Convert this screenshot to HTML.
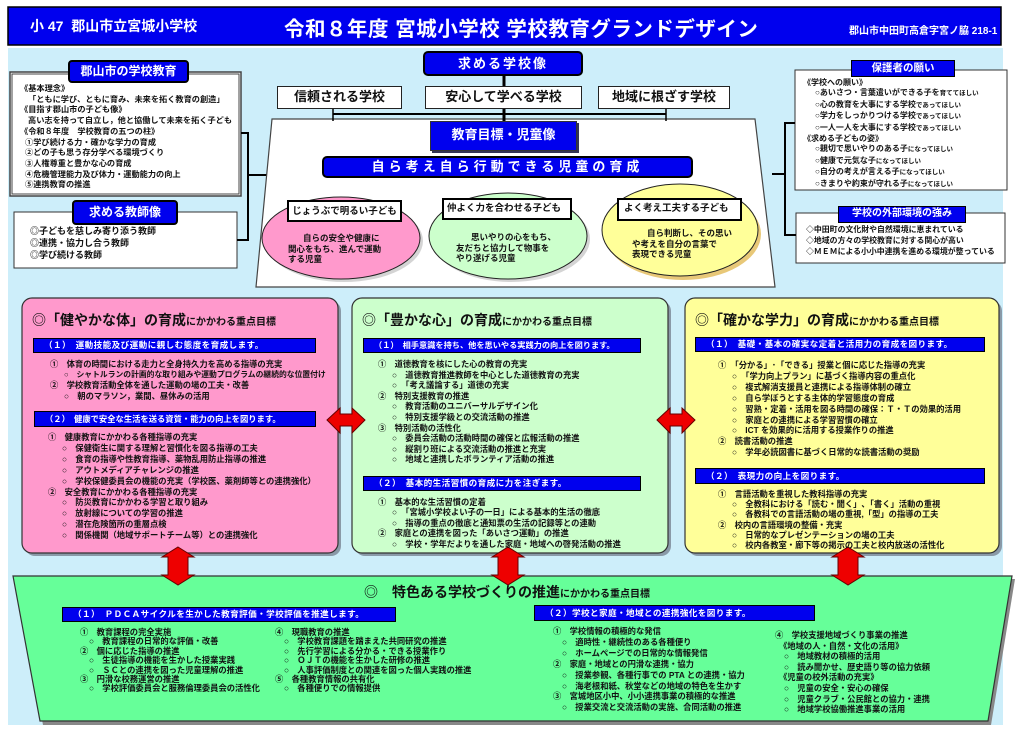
<!DOCTYPE html>
<html><head><meta charset="utf-8">
<style>
*{margin:0;padding:0;box-sizing:border-box}
body{width:1024px;height:735px;background:#fff;position:relative;overflow:hidden;font-family:"Liberation Sans","Noto Sans CJK JP",sans-serif;font-weight:bold;color:#111}
.a{position:absolute;white-space:nowrap}
.lbl{position:absolute;background:#0000ee;color:#fff;text-align:center;border:2px solid #000;}
.box{position:absolute;background:#fff;border:1.5px solid #222;text-align:center}
.bar{position:absolute;background:#0000ee;color:#fff;border:1px solid #000;font-size:8.6px;padding-left:10px;white-space:nowrap;letter-spacing:0.4px;overflow:hidden}
.l{font-size:8.3px;white-space:nowrap}
.i1{padding-left:0}
.i2{padding-left:14px}
</style></head><body>
<svg class="a" style="left:0;top:0" width="1024" height="735">
<rect x="8" y="48" width="995" height="677" fill="#cdeefa"/>
<rect x="8" y="7" width="993" height="38" fill="#0000ee" stroke="#000" stroke-width="1.5"/>
<rect x="10" y="72" width="231" height="124" fill="#fff" stroke="#444" stroke-width="1.5"/>
<rect x="12" y="74" width="227" height="120" fill="none" stroke="#444" stroke-width="1"/>
<rect x="14" y="212" width="223" height="56" fill="#fff" stroke="#333" stroke-width="1"/>
<polyline points="241,133 248,133 248,240 237,240" fill="none" stroke="#000" stroke-width="2"/>
<line x1="248" y1="175" x2="268" y2="175" stroke="#000" stroke-width="2"/>
<polygon points="272,119 755,119 775,287 256,287" fill="#fff" stroke="#444" stroke-width="1.2"/>
<line x1="504" y1="76" x2="504" y2="121" stroke="#000" stroke-width="3"/>
<line x1="333" y1="114" x2="666" y2="114" stroke="#000" stroke-width="2"/>
<line x1="333" y1="109" x2="333" y2="121" stroke="#000" stroke-width="1.5"/>
<line x1="666" y1="109" x2="666" y2="121" stroke="#000" stroke-width="1.5"/>
<ellipse cx="344" cy="241" rx="79" ry="41" fill="#aaa" opacity=".5"/>
<ellipse cx="341" cy="238" rx="79" ry="41" fill="#ff99cc" stroke="#222" stroke-width="1"/>
<ellipse cx="511" cy="239" rx="79" ry="43" fill="#aaa" opacity=".5"/>
<ellipse cx="508" cy="236" rx="79" ry="43" fill="#ccffcc" stroke="#222" stroke-width="1"/>
<ellipse cx="683" cy="234" rx="78" ry="46" fill="#e8c878"/>
<ellipse cx="680" cy="230" rx="78" ry="46" fill="#ffff99" stroke="#222" stroke-width="1"/>
<rect x="795" y="70" width="212" height="120" fill="#fff" stroke="#333" stroke-width="1"/>
<rect x="796" y="213" width="209" height="50" fill="#fff" stroke="#333" stroke-width="1"/>
<polyline points="795,123 785,123 785,235 796,235" fill="none" stroke="#000" stroke-width="2"/>
<line x1="785" y1="174" x2="772" y2="174" stroke="#000" stroke-width="2"/>
<rect x="25" y="301" width="316" height="255" rx="10" fill="#8a9aa8"/>
<rect x="22" y="298" width="316" height="255" rx="10" fill="#ff99cc" stroke="#333" stroke-width="1.2"/>
<rect x="355" y="301" width="316" height="255" rx="10" fill="#8a9aa8"/>
<rect x="352" y="298" width="316" height="255" rx="10" fill="#ccffcc" stroke="#333" stroke-width="1.2"/>
<rect x="688" y="301" width="314" height="255" rx="10" fill="#8a9aa8"/>
<rect x="685" y="298" width="314" height="255" rx="10" fill="#ffff99" stroke="#333" stroke-width="1.2"/>
<polygon points="16,579 1015,579 991,725 43,725" fill="#888"/>
<polygon points="13,576 1012,576 988,721 40,721" fill="#66ff99" stroke="#333" stroke-width="1.2"/>
<polygon points="327,420 340,408 340,414 352,414 352,408 365,420 352,433 352,426 340,426 340,433" fill="#ee0000" stroke="#600" stroke-width="1"/>
<polygon points="657,420 670,408 670,414 682,414 682,408 695,420 682,433 682,426 670,426 670,433" fill="#ee0000" stroke="#600" stroke-width="1"/>
<polygon points="178,547 194,557 188,557 188,575 194,575 178,585 162,575 168,575 168,557 162,557" fill="#ee0000" stroke="#600" stroke-width="1"/>
<polygon points="508,547 524,557 518,557 518,575 524,575 508,585 492,575 498,575 498,557 492,557" fill="#ee0000" stroke="#600" stroke-width="1"/>
<polygon points="848,547 864,557 858,557 858,575 864,575 848,585 832,575 838,575 838,557 832,557" fill="#ee0000" stroke="#600" stroke-width="1"/>
</svg>

<div class="a" style="left:30px;top:16px;color:#fff;font-size:14px">小 47&nbsp; 郡山市立宮城小学校</div>
<div class="a" style="left:284px;top:12px;color:#fff;font-size:20.5px;letter-spacing:0.5px">令和８年度&nbsp;宮城小学校&nbsp;学校教育グランドデザイン</div>
<div class="a" style="left:849px;top:22px;color:#fff;font-size:10px">郡山市中田町高倉字宮ノ脇 218-1</div>

<div class="lbl" style="left:68px;top:60px;width:121px;height:23px;font-size:12px;line-height:19px;border-radius:4px">郡山市の学校教育</div>
<div class="a l" style="left:20px;top:84px;line-height:10.7px;font-size:8.2px">
<div>《基本理念》</div>
<div style="padding-left:8px">「ともに学び、ともに育み、未来を拓く教育の創造」</div>
<div>《目指す郡山市の子ども像》</div>
<div style="padding-left:8px">高い志を持って自立し，他と協働して未来を拓く子ども</div>
<div>《令和８年度　学校教育の五つの柱》</div>
<div style="padding-left:5px">①学び続ける力・確かな学力の育成</div>
<div style="padding-left:5px">②どの子も思う存分学べる環境づくり</div>
<div style="padding-left:5px">③人権尊重と豊かな心の育成</div>
<div style="padding-left:5px">④危機管理能力及び体力・運動能力の向上</div>
<div style="padding-left:5px">⑤連携教育の推進</div>
</div>
<div class="lbl" style="left:72px;top:200px;width:106px;height:25px;font-size:12px;line-height:21px;border-radius:4px">求める教師像</div>
<div class="a" style="left:30px;top:225px;line-height:12px;font-size:9px">
<div>◎子どもを慈しみ寄り添う教師</div>
<div>◎連携・協力し合う教師</div>
<div>◎学び続ける教師</div>
</div>

<div class="lbl" style="left:423px;top:51px;width:160px;height:25px;font-size:13px;line-height:21px;border-radius:5px;letter-spacing:2px">求める学校像</div>
<div class="box" style="left:277px;top:86px;width:125px;height:23px;font-size:13px;line-height:20px">信頼される学校</div>
<div class="box" style="left:425px;top:86px;width:157px;height:23px;font-size:13px;line-height:20px">安心して学べる学校</div>
<div class="box" style="left:598px;top:86px;width:132px;height:23px;font-size:13px;line-height:20px">地域に根ざす学校</div>
<div class="lbl" style="left:430px;top:121px;width:147px;height:30px;font-size:13px;line-height:26px;border:1px solid #333;box-shadow:2px 2px 0 #335">教育目標・児童像</div>
<div class="lbl" style="left:322px;top:156px;width:371px;height:22px;font-size:13px;line-height:18px;border-radius:5px;letter-spacing:4px">自ら考え自ら行動できる児童の育成</div>
<div class="box" style="left:287px;top:200px;width:115px;height:22px;font-size:9.5px;line-height:19px;border:2.5px solid #000">じょうぶで明るい子ども</div>
<div class="box" style="left:442px;top:198px;width:130px;height:22px;font-size:9.5px;line-height:17px;border:2.5px solid #000;text-align:left;padding-left:3px">仲よく力を合わせる子ども</div>
<div class="box" style="left:617px;top:198px;width:125px;height:23px;font-size:9.5px;line-height:17px;border:2.5px solid #000;text-align:left;padding-left:5px">よく考え工夫する子ども</div>
<div class="a" style="left:288px;top:233px;font-size:8.5px;line-height:10.5px"><div style="padding-left:15px">自らの安全や健康に</div><div>関心をもち、進んで運動</div><div>する児童</div></div>
<div class="a" style="left:456px;top:232px;font-size:8.5px;line-height:10.5px"><div style="padding-left:15px">思いやりの心をもち、</div><div>友だちと協力して物事を</div><div>やり遂げる児童</div></div>
<div class="a" style="left:632px;top:228px;font-size:8.5px;line-height:10.5px"><div style="padding-left:15px">自ら判断し、その思い</div><div>や考えを自分の言葉で</div><div>表現できる児童</div></div>

<div class="lbl" style="left:851px;top:60px;width:104px;height:17px;font-size:10.5px;line-height:14px;border-width:1px">保護者の願い</div>
<div class="a" style="left:803px;top:78px;font-size:8px;line-height:10.4px">
<div>《学校への願い》</div>
<div style="padding-left:12px">○あいさつ・言葉遣いができる子を<span style="font-size:6.5px">育ててほしい</span></div>
<div style="padding-left:12px">○心の教育を大事にする学校<span style="font-size:6.5px">であってほしい</span></div>
<div style="padding-left:12px">○学力をしっかりつける学校<span style="font-size:6.5px">であってほしい</span></div>
<div style="padding-left:12px">○一人一人を大事にする学校<span style="font-size:6.5px">であってほしい</span></div>
<div>《求める子どもの姿》</div>
<div style="padding-left:12px">○親切で思いやりのある子<span style="font-size:6.5px">になってほしい</span></div>
<div style="padding-left:12px">○健康で元気な子<span style="font-size:6.5px">になってほしい</span></div>
<div style="padding-left:12px">○自分の考えが言える子<span style="font-size:6.5px">になってほしい</span></div>
<div style="padding-left:12px">○きまりや約束が守れる子<span style="font-size:6.5px">になってほしい</span></div>
</div>
<div class="lbl" style="left:838px;top:206px;width:128px;height:17px;font-size:10px;line-height:14px;border-width:1px">学校の外部環境の強み</div>
<div class="a" style="left:806px;top:224px;font-size:7.9px;line-height:11px">
<div>◇中田町の文化財や自然環境に恵まれている</div>
<div>◇地域の方々の学校教育に対する関心が高い</div>
<div>◇ＭＥＭによる小小中連携を進める環境が整っている</div>
</div>

<div class="a" style="left:32px;top:310px;font-size:14px">◎「健やかな体」の育成<span style="font-size:10px">にかかわる重点目標</span></div>
<div class="bar" style="left:33px;top:338px;width:283px;height:15px;line-height:13px">（１）　運動技能及び運動に親しむ態度を育成します。</div>
<div class="a" style="left:50px;top:359px;line-height:10.7px">
<div class="l">①　体育の時間における走力と全身持久力を高める指導の充実</div>
<div class="l i2" style="font-size:7.8px">○　シャトルランの計画的な取り組みや運動プログラムの継続的な位置付け</div>
<div class="l">②　学校教育活動全体を通した運動の場の工夫・改善</div>
<div class="l i2">○　朝のマラソン，業間、昼休みの活用</div>
</div>
<div class="bar" style="left:34px;top:411px;width:282px;height:16px;line-height:14px;font-size:8.3px;letter-spacing:0">（２）　健康で安全な生活を送る資質・能力の向上を図ります。</div>
<div class="a" style="left:48px;top:432px;line-height:10.9px">
<div class="l">①　健康教育にかかわる各種指導の充実</div>
<div class="l i2">○　保健衛生に関する理解と習慣化を図る指導の工夫</div>
<div class="l i2">○　食育の指導や性教育指導、薬物乱用防止指導の推進</div>
<div class="l i2">○　アウトメディアチャレンジの推進</div>
<div class="l i2">○　学校保健委員会の機能の充実（学校医、薬剤師等との連携強化）</div>
<div class="l">②　安全教育にかかわる各種指導の充実</div>
<div class="l i2">○　防災教育にかかわる学習と取り組み</div>
<div class="l i2">○　放射線についての学習の推進</div>
<div class="l i2">○　潜在危険箇所の重層点検</div>
<div class="l i2">○　関係機関（地域サポートチーム等）との連携強化</div>
</div>

<div class="a" style="left:362px;top:310px;font-size:14px">◎「豊かな心」の育成<span style="font-size:10px">にかかわる重点目標</span></div>
<div class="bar" style="left:363px;top:338px;width:278px;height:15px;line-height:13px;font-size:8.2px;letter-spacing:0">（１）　相手意識を持ち、他を思いやる実践力の向上を図ります。</div>
<div class="a" style="left:378px;top:359px;line-height:10.6px">
<div class="l">①　道徳教育を核にした心の教育の充実</div>
<div class="l i2">○　道徳教育推進教師を中心とした道徳教育の充実</div>
<div class="l i2">○　「考え議論する」道徳の充実</div>
<div class="l">②　特別支援教育の推進</div>
<div class="l i2">○　教育活動のユニバーサルデザイン化</div>
<div class="l i2">○　特別支援学級との交流活動の推進</div>
<div class="l">③　特別活動の活性化</div>
<div class="l i2">○　委員会活動の活動時間の確保と広報活動の推進</div>
<div class="l i2">○　縦割り班による交流活動の推進と充実</div>
<div class="l i2">○　地域と連携したボランティア活動の推進</div>
</div>
<div class="bar" style="left:363px;top:476px;width:278px;height:15px;line-height:13px">（２）　基本的生活習慣の育成に力を注ぎます。</div>
<div class="a" style="left:378px;top:497px;line-height:10.4px">
<div class="l">①　基本的な生活習慣の定着</div>
<div class="l i2">○　「宮城小学校よい子の一日」による基本的生活の徹底</div>
<div class="l i2">○　指導の重点の徹底と通知票の生活の記録等との連動</div>
<div class="l">②　家庭との連携を図った「あいさつ運動」の推進</div>
<div class="l i2">○　学校・学年だよりを通した家庭・地域への啓発活動の推進</div>
</div>

<div class="a" style="left:695px;top:310px;font-size:14px">◎「確かな学力」の育成<span style="font-size:10px">にかかわる重点目標</span></div>
<div class="bar" style="left:695px;top:337px;width:290px;height:15px;line-height:13px">（１）　基礎・基本の確実な定着と活用力の育成を図ります。</div>
<div class="a" style="left:718px;top:360px;line-height:10.9px">
<div class="l">①　「分かる」･「できる」授業と個に応じた指導の充実</div>
<div class="l i2">○　「学力向上プラン」に基づく指導内容の重点化</div>
<div class="l i2">○　複式解消支援員と連携による指導体制の確立</div>
<div class="l i2">○　自ら学ぼうとする主体的学習態度の育成</div>
<div class="l i2">○　習熟・定着・活用を図る時間の確保：Ｔ・Ｔの効果的活用</div>
<div class="l i2">○　家庭との連携による学習習慣の確立</div>
<div class="l i2">○　ICT を効果的に活用する授業作りの推進</div>
<div class="l">②　読書活動の推進</div>
<div class="l i2">○　学年必読図書に基づく日常的な読書活動の奨励</div>
</div>
<div class="bar" style="left:695px;top:468px;width:290px;height:16px;line-height:14px">（２）　表現力の向上を図ります。</div>
<div class="a" style="left:718px;top:489px;line-height:10.2px">
<div class="l">①　言語活動を重視した教科指導の充実</div>
<div class="l i2">○　全教科における「読む・聞く」､「書く」活動の重視</div>
<div class="l i2">○　各教科での言語活動の場の重視,「型」の指導の工夫</div>
<div class="l">②　校内の言語環境の整備・充実</div>
<div class="l i2">○　日常的なプレゼンテーションの場の工夫</div>
<div class="l i2">○　校内各教室・廊下等の掲示の工夫と校内放送の活性化</div>
</div>

<div class="a" style="left:364px;top:582px;font-size:14px">◎　特色ある学校づくりの推進<span style="font-size:10px">にかかわる重点目標</span></div>
<div class="bar" style="left:62px;top:607px;width:334px;height:15px;line-height:13px">（１）　ＰＤＣＡサイクルを生かした教育評価・学校評価を推進します。</div>
<div class="a" style="left:80px;top:628px;line-height:9.4px">
<div class="l">①　教育課程の完全実施</div>
<div class="l" style="padding-left:9px">○　教育課程の日常的な評価・改善</div>
<div class="l">②　個に応じた指導の推進</div>
<div class="l" style="padding-left:9px">○　生徒指導の機能を生かした授業実践</div>
<div class="l" style="padding-left:9px">○　ＳＣとの連携を図った児童理解の推進</div>
<div class="l">③　円滑な校務運営の推進</div>
<div class="l" style="padding-left:9px">○　学校評価委員会と服務倫理委員会の活性化</div>
</div>
<div class="a" style="left:275px;top:628px;line-height:9.4px">
<div class="l">④　現職教育の推進</div>
<div class="l" style="padding-left:9px">○　学校教育課題を踏まえた共同研究の推進</div>
<div class="l" style="padding-left:9px">○　先行学習による分かる・できる授業作り</div>
<div class="l" style="padding-left:9px">○　ＯＪＴの機能を生かした研修の推進</div>
<div class="l" style="padding-left:9px">○　人事評価制度との関連を図った個人実践の推進</div>
<div class="l">⑤　各種教育情報の共有化</div>
<div class="l" style="padding-left:9px">○　各種便りでの情報提供</div>
</div>
<div class="bar" style="left:534px;top:605px;width:281px;height:16px;line-height:14px">（２）学校と家庭・地域との連携強化を図ります。</div>
<div class="a" style="left:553px;top:626px;line-height:10.9px">
<div class="l">①　学校情報の積極的な発信</div>
<div class="l" style="padding-left:9px">○　適時性・継続性のある各種便り</div>
<div class="l" style="padding-left:9px">○　ホームページでの日常的な情報発信</div>
<div class="l">②　家庭・地域との円滑な連携・協力</div>
<div class="l" style="padding-left:9px">○　授業参観、各種行事での PTA との連携・協力</div>
<div class="l" style="padding-left:9px">○　海老根和紙、秋堂などの地域の特色を生かす</div>
<div class="l">③　宮城地区小中、小小連携事業の積極的な推進</div>
<div class="l" style="padding-left:9px">○　授業交流と交流活動の実施、合同活動の推進</div>
</div>
<div class="a" style="left:775px;top:630px;line-height:10.6px">
<div class="l">④　学校支援地域づくり事業の推進</div>
<div class="l" style="padding-left:4px">《地域の人・自然・文化の活用》</div>
<div class="l" style="padding-left:9px">○　地域教材の積極的活用</div>
<div class="l" style="padding-left:9px">○　読み聞かせ、歴史語り等の協力依頼</div>
<div class="l" style="padding-left:4px">《児童の校外活動の充実》</div>
<div class="l" style="padding-left:9px">○　児童の安全・安心の確保</div>
<div class="l" style="padding-left:9px">○　児童クラブ・公民館との協力・連携</div>
<div class="l" style="padding-left:9px">○　地域学校協働推進事業の活用</div>
</div>
</body></html>
